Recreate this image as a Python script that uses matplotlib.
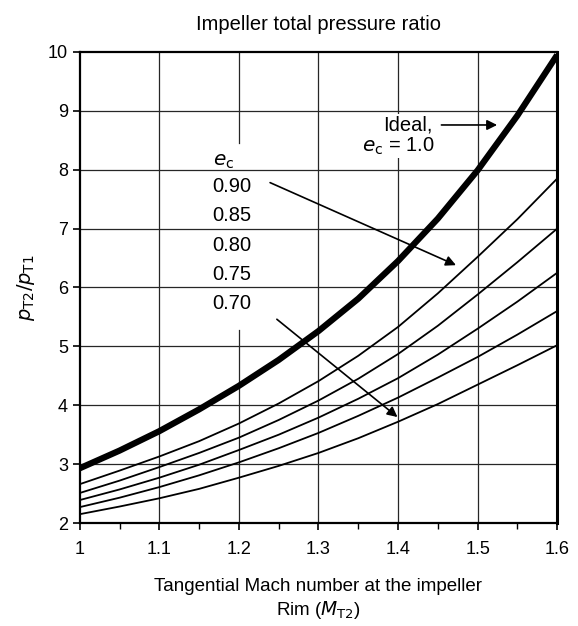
import numpy as np
import matplotlib.pyplot as plt

plt.rcParams['font.family'] = ['Liberation Sans', 'DejaVu Sans']

# tangential Mach number at the rim
M = [1.00, 1.05, 1.10, 1.15, 1.20, 1.25, 1.30, 1.35, 1.40, 1.45, 1.50, 1.55, 1.60]

# pressure ratio
ideal = [2.93, 3.23, 3.56, 3.93, 4.33, 4.77, 5.26, 5.81, 6.45, 7.17, 7.99, 8.92, 9.95]
e90 = [2.66, 2.89, 3.13, 3.39, 3.69, 4.03, 4.41, 4.84, 5.33, 5.90, 6.52, 7.16, 7.85]
e85 = [2.51, 2.72, 2.95, 3.19, 3.45, 3.75, 4.08, 4.45, 4.87, 5.35, 5.88, 6.43, 7.00]
e80 = [2.39, 2.57, 2.77, 2.99, 3.24, 3.50, 3.79, 4.11, 4.46, 4.86, 5.30, 5.76, 6.25]
e75 = [2.27, 2.43, 2.61, 2.81, 3.03, 3.27, 3.53, 3.82, 4.13, 4.47, 4.82, 5.20, 5.60]
e70 = [2.15, 2.28, 2.42, 2.58, 2.77, 2.97, 3.19, 3.44, 3.72, 4.02, 4.35, 4.68, 5.02]

eff_labels = ['0.90', '0.85', '0.80', '0.75', '0.70']
xticks = [1, 1.1, 1.2, 1.3, 1.4, 1.5, 1.6]
xticklabels = ['1', '1.1', '1.2', '1.3', '1.4', '1.5', '1.6']
yticks = [2, 3, 4, 5, 6, 7, 8, 9, 10]

fig = plt.figure(figsize=(5.78, 6.26), dpi=100)
ax = fig.add_axes([0.138, 0.1645, 0.826, 0.7525])

# grid drawn by hand (the 1.2 line is broken behind the e_c labels)
for y in yticks[1:-1]:
    ax.axhline(y, color='0.15', lw=0.9, zorder=1)
for x in xticks[1:-1]:
    if x == 1.2:
        ax.plot([x, x], [2, 5.27], color='0.15', lw=0.9, zorder=1)
        ax.plot([x, x], [8.45, 10], color='0.15', lw=0.9, zorder=1)
    else:
        ax.axvline(x, color='0.15', lw=0.9, zorder=1)

for s in [e90, e85, e80, e75, e70]:
    ax.plot(M, s, color='black', lw=1.3, zorder=3)
ax.plot(M, ideal, color='black', lw=4.5, solid_capstyle='butt', zorder=4)

# labels and arrows
ax.text(1.443, 8.76, 'Ideal,', ha='right', va='center', fontsize=14.5,
        bbox=dict(fc='white', ec='none', pad=1), zorder=5)
ax.text(1.400, 8.40, r'$e_{\rm c}$ = 1.0', ha='center', va='center', fontsize=14.5,
        bbox=dict(fc='white', ec='none', pad=1), zorder=5)
ax.annotate('', xy=(1.528, 8.76), xytext=(1.451, 8.76),
            arrowprops=dict(arrowstyle='-|>', color='black', lw=1.2,
                            mutation_scale=15), zorder=6)

ax.text(1.168, 8.14, r'$e_{\rm c}$', ha='left', va='center', fontsize=14.5)
for i, lab in enumerate(eff_labels):
    ax.text(1.166, 7.71 - 0.495 * i, lab, ha='left', va='center', fontsize=14.5)

ax.annotate('', xy=(1.476, 6.36), xytext=(1.236, 7.80),
            arrowprops=dict(arrowstyle='-|>', color='black', lw=1.2,
                            mutation_scale=15), zorder=6)
ax.annotate('', xy=(1.402, 3.77), xytext=(1.245, 5.49),
            arrowprops=dict(arrowstyle='-|>', color='black', lw=1.2,
                            mutation_scale=15), zorder=6)

ax.set_xlim(1, 1.6)
ax.set_ylim(2, 10)
ax.set_xticks(xticks)
ax.set_xticklabels(xticklabels)
ax.set_xticks(np.arange(1.05, 1.6, 0.1), minor=True)
ax.set_yticks(yticks)
ax.tick_params(axis='both', which='major', direction='out', length=5, width=1.2,
               labelsize=13, color='black')
ax.tick_params(axis='x', which='minor', direction='out', length=4, width=1.0)
ax.tick_params(axis='x', pad=8)
for sp in ax.spines.values():
    sp.set_linewidth(1.6)
ax.spines['right'].set_linewidth(2.2)

ax.set_title('Impeller total pressure ratio', fontsize=14.5, pad=16)
ax.set_xlabel('Tangential Mach number at the impeller\n' + r'Rim ($M_{\rm T2}$)',
              fontsize=13.5, labelpad=14, linespacing=1.3)
ax.set_ylabel(r'$p_{\rm T2}/p_{\rm T1}$', fontsize=14, labelpad=8)

fig.savefig('out.png', dpi=100)
